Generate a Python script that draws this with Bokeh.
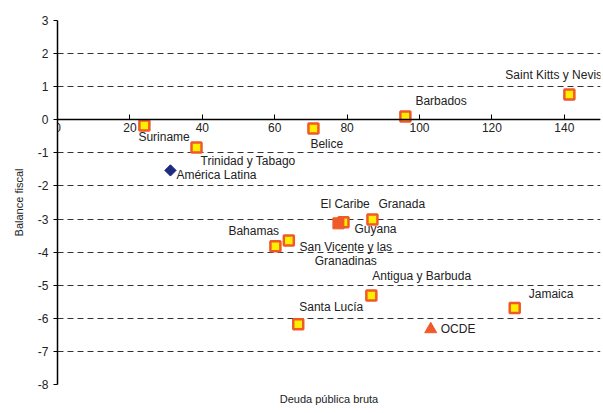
import math
from bokeh.plotting import figure
from bokeh.models import ColumnDataSource, FixedTicker, Range1d, Title
from bokeh.core.properties import value
from bokeh.embed import file_html
from bokeh.resources import INLINE

# ---- data ----
countries = ["Suriname", "Trinidad y Tabago", "Belice", "Barbados", "Saint Kitts y Nevis",
             "Guyana", "Granada", "Bahamas", "San Vicente y las\nGranadinas",
             "Antigua y Barbuda", "Santa Lucía", "Jamaica"]
deuda = [24.0, 38.4, 70.7, 96.1, 141.4, 79.0, 87.0, 60.2, 63.9, 86.7, 66.5, 126.3]
balance = [-0.17, -0.84, -0.26, 0.10, 0.76, -3.10, -3.01, -3.82, -3.65, -5.31, -6.18, -5.69]

caribe_name = ["El Caribe"]
caribe_x = [77.6]
caribe_y = [-3.13]

al_name = ["América Latina"]
al_x = [31.2]
al_y = [-1.53]

ocde_name = ["OCDE"]
ocde_x = [103.1]
ocde_y = [-6.33]

x_ticks = [0, 20, 40, 60, 80, 100, 120, 140]
x_tick_labels = ["0", "20", "40", "60", "80", "100", "120", "140"]
y_ticks = [-8, -7, -6, -5, -4, -3, -2, -1, 0, 1, 2, 3]
y_tick_labels = ["-8", "-7", "-6", "-5", "-4", "-3", "-2", "-1", "0", "1", "2", "3"]

x_title = "Deuda pública bruta"
y_title = "Balance fiscal"

# label offsets in screen pixels (style)
lab_dx = [-6, 4, -3, 10, -64, 11, 6, -47, 57, 1, 1, 14]
lab_dy = [12, 13, 16, -15, -20, 7, -15, -15, -1, -19, -17, -14]

FONT = "Liberation Sans"
ORANGE = "#F05A28"
YELLOW = "#FFEE00"
NAVY = "#1F2A80"
TXT = "#222222"

p = figure(width=603, height=413, output_backend="svg", toolbar_location=None,
           x_range=Range1d(0, 150), y_range=Range1d(-8, 3),
           min_border_left=57, min_border_right=3, min_border_top=20, min_border_bottom=29)
p.outline_line_color = None
p.background_fill_color = "white"
p.border_fill_color = "white"

# axes
p.xaxis.fixed_location = 0
p.xaxis.ticker = FixedTicker(ticks=x_ticks)
p.xaxis.major_label_overrides = {t: s for t, s in zip(x_ticks, x_tick_labels)}
p.xaxis.major_tick_in = 5
p.xaxis.major_tick_out = 0
p.xaxis.minor_tick_line_color = None
p.xaxis.axis_line_color = "black"
p.xaxis.axis_line_width = 1.5
p.xaxis.major_tick_line_color = "black"
p.xaxis.major_label_text_font = FONT
p.xaxis.major_label_text_font_size = "12px"
p.xaxis.major_label_text_color = TXT
p.xaxis.major_label_standoff = 3

p.yaxis.ticker = FixedTicker(ticks=y_ticks)
p.yaxis.major_label_overrides = {t: s for t, s in zip(y_ticks, y_tick_labels)}
p.yaxis.major_tick_in = 0
p.yaxis.major_tick_out = 4
p.yaxis.minor_tick_line_color = None
p.yaxis.axis_line_color = "black"
p.yaxis.axis_line_width = 1.5
p.yaxis.major_tick_line_color = "black"
p.yaxis.major_label_text_font = FONT
p.yaxis.major_label_text_font_size = "12px"
p.yaxis.major_label_text_color = TXT
p.yaxis.major_label_standoff = 5
p.yaxis.axis_label = y_title
p.yaxis.axis_label_text_font = FONT
p.yaxis.axis_label_text_font_size = "11px"
p.yaxis.axis_label_text_font_style = "normal"
p.yaxis.axis_label_text_color = TXT
p.yaxis.axis_label_standoff = 10

p.xgrid.grid_line_color = None
p.ygrid.ticker = FixedTicker(ticks=y_ticks)
p.ygrid.grid_line_color = "#333333"
p.ygrid.grid_line_dash = "6 4"
p.ygrid.grid_line_width = 1

p.add_layout(Title(text=x_title, align="center", text_font=FONT,
                   text_font_size="11px", text_font_style="normal", text_color=TXT,
                   standoff=13), "below")

# countries
src = ColumnDataSource(dict(x=deuda, y=balance))
p.scatter("x", "y", source=src, marker="square", size=10, fill_color=YELLOW,
          line_color=ORANGE, line_width=2.5)

idx_multi = [i for i, c in enumerate(countries) if "\n" in c]
idx_single = [i for i in range(len(countries)) if i not in idx_multi]


def sub(idx):
    return ColumnDataSource(dict(x=[deuda[i] for i in idx], y=[balance[i] for i in idx],
                                 name=[countries[i] for i in idx],
                                 dx=[lab_dx[i] for i in idx], dy=[lab_dy[i] for i in idx]))


p.text("x", "y", text="name", source=sub(idx_single), x_offset="dx", y_offset="dy",
       text_font=value(FONT), text_font_size="12px", text_color=TXT,
       text_align="left", text_baseline="middle")
p.text("x", "y", text="name", source=sub(idx_multi), x_offset="dx", y_offset="dy",
       text_font=value(FONT), text_font_size="12px", text_color=TXT,
       text_align="center", text_baseline="top", text_line_height=1.05)

# El Caribe
p.scatter(caribe_x, caribe_y, marker="square", size=11, fill_color=ORANGE, line_color=ORANGE)
p.text(caribe_x, caribe_y, text=caribe_name, x_offset=-18, y_offset=-19,
       text_font=value(FONT), text_font_size="12px", text_color=TXT,
       text_align="left", text_baseline="middle")

# América Latina
p.scatter(al_x, al_y, marker="square", size=8, angle=math.pi / 4,
          fill_color=NAVY, line_color=NAVY)
p.text(al_x, al_y, text=al_name, x_offset=6, y_offset=5,
       text_font=value(FONT), text_font_size="12px", text_color=TXT,
       text_align="left", text_baseline="middle")

# OCDE
p.scatter(ocde_x, ocde_y, marker="triangle", size=12, fill_color=ORANGE, line_color=ORANGE)
p.text(ocde_x, ocde_y, text=ocde_name, x_offset=10, y_offset=0,
       text_font=value(FONT), text_font_size="12px", text_color=TXT,
       text_align="left", text_baseline="middle")

open("out.html", "w").write(file_html(p, INLINE))
